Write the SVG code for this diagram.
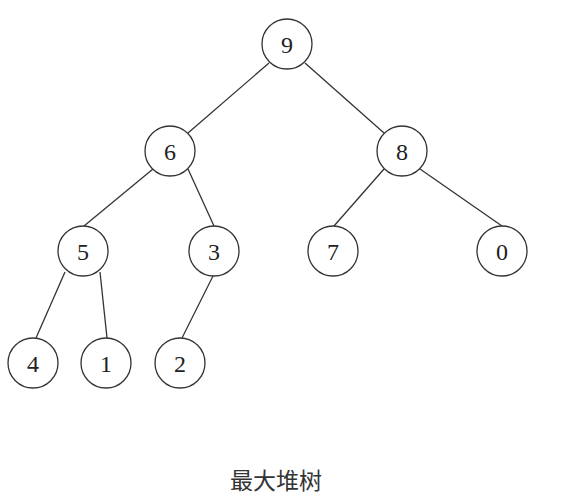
<svg xmlns="http://www.w3.org/2000/svg" width="573" height="501" viewBox="0 0 573 501">
<style>
.n circle{fill:#fff;stroke:#333;stroke-width:1.3}
.n text{font-family:"Liberation Serif","DejaVu Serif",serif;font-size:24px;fill:#222;text-anchor:middle;dominant-baseline:central}
#edges line{stroke:#333;stroke-width:1.3}
.title{font-family:"Noto Sans CJK SC",sans-serif;font-size:23px;fill:#333;text-anchor:middle}
</style>
<rect width="573" height="501" fill="#fff"/>
<g id="edges">
<line x1="269" y1="63" x2="188" y2="133"/>
<line x1="305" y1="63" x2="384" y2="133"/>
<line x1="153" y1="169" x2="84" y2="226"/>
<line x1="188" y1="169" x2="214" y2="226"/>
<line x1="384" y1="169" x2="334" y2="226"/>
<line x1="420" y1="169" x2="502" y2="226"/>
<line x1="65" y1="272" x2="36" y2="338"/>
<line x1="100" y1="272" x2="107" y2="338"/>
<line x1="213" y1="276" x2="182" y2="338"/>
</g>
<g id="n9" class="n"><circle cx="287" cy="44" r="25"/><text x="287" y="45">9</text></g>
<g id="n6" class="n"><circle cx="170" cy="151" r="25"/><text x="170" y="152">6</text></g>
<g id="n8" class="n"><circle cx="402" cy="151" r="25"/><text x="402" y="152">8</text></g>
<g id="n5" class="n"><circle cx="83" cy="251" r="25"/><text x="83" y="252">5</text></g>
<g id="n3" class="n"><circle cx="214" cy="251" r="25"/><text x="214" y="252">3</text></g>
<g id="n7" class="n"><circle cx="333" cy="251" r="25"/><text x="333" y="252">7</text></g>
<g id="n0" class="n"><circle cx="502" cy="251" r="25"/><text x="502" y="252">0</text></g>
<g id="n4" class="n"><circle cx="33" cy="363" r="25"/><text x="33" y="364">4</text></g>
<g id="n1" class="n"><circle cx="106" cy="363" r="25"/><text x="106" y="364">1</text></g>
<g id="n2" class="n"><circle cx="180" cy="363" r="25"/><text x="180" y="364">2</text></g>
<text class="title" x="276" y="489">最大堆树</text>
</svg>
